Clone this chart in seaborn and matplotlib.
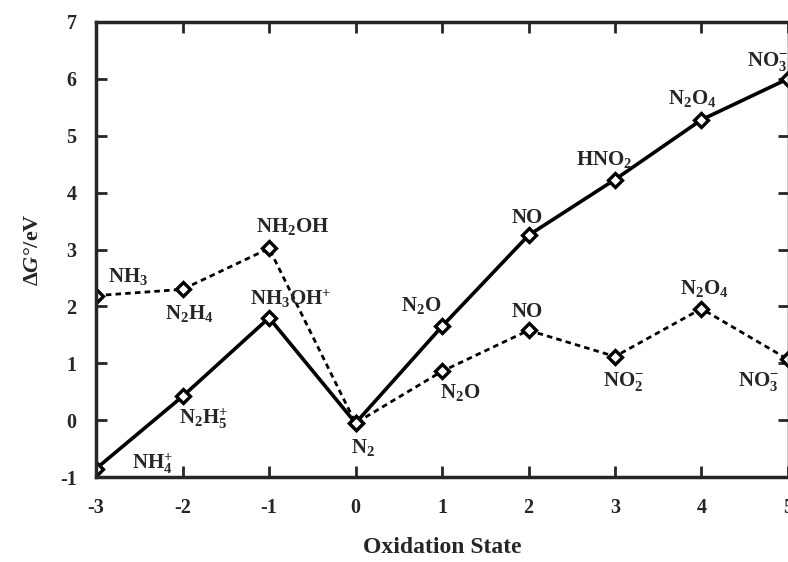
import matplotlib
matplotlib.use('Agg')
import matplotlib.pyplot as plt
import seaborn as sns
import pandas

# oxidation states of nitrogen
states = [-3, -2, -1, 0, 1, 2, 3, 4, 5]

# acid solution (solid line)
acidG = [-0.85, 0.42, 1.80, -0.05, 1.65, 3.25, 4.23, 5.28, 6.00]
acidNames = [r'NH$_4^{+}$', r'N$_2$H$_5^{+}$', r'NH$_3$OH$^{+}$', r'N$_2$', r'N$_2$O',
             'NO', r'HNO$_2$', r'N$_2$O$_4$', r'NO$_3^{-}$']

# basic solution (dashed line)
baseG = [2.19, 2.30, 3.02, -0.05, 0.86, 1.58, 1.12, 1.96, 1.07]
baseNames = [r'NH$_3$', r'N$_2$H$_4$', r'NH$_2$OH', None, r'N$_2$O',
             'NO', r'NO$_2^{-}$', r'N$_2$O$_4$', r'NO$_3^{-}$']

# label offsets in pixels from their point
acidOffsets = [(56, 5), (21, -22), (22, 19), (7, -24), (-21, 21), (-1, 17), (-11, 20), (-9, 21), (-20, 17)]
baseOffsets = [(32, 19), (7, -24), (24, 22), None, (18, -21), (-1, 18), (9, -25), (3, 20), (-29, -22)]

sns.set_theme(style='ticks')
plt.rcParams['font.family'] = ['Liberation Serif', 'DejaVu Serif']
plt.rcParams['font.weight'] = 'bold'
plt.rcParams['mathtext.fontset'] = 'custom'
plt.rcParams['mathtext.rm'] = 'Liberation Serif:bold'
plt.rcParams['mathtext.it'] = 'Liberation Serif:bold:italic'
plt.rcParams['mathtext.bf'] = 'Liberation Serif:bold'
plt.rcParams['axes.unicode_minus'] = False

df = pandas.DataFrame({'state': states, 'acid': acidG, 'base': baseG})

fig = plt.figure(figsize=(7.88, 5.62), dpi=100)
ax = fig.add_axes([0.122, 0.151, 0.879, 0.810])

markerStyle = dict(marker='D', markersize=7.5, markerfacecolor='white',
                   markeredgecolor='black', markeredgewidth=2.4)
sns.lineplot(df, x='state', y='base', color='black', linewidth=2.0,
             linestyle=(0, (2.0, 1.5)), ax=ax, **markerStyle)
sns.lineplot(df, x='state', y='acid', color='black', linewidth=2.6, ax=ax, **markerStyle)

for x, y, name, off in zip(states, acidG, acidNames, acidOffsets):
    ax.annotate(name, (x, y), xytext=off, textcoords='offset pixels',
                ha='center', va='center', fontsize=15, fontweight='bold', annotation_clip=False)
for x, y, name, off in zip(states, baseG, baseNames, baseOffsets):
    if name is None:
        continue
    ax.annotate(name, (x, y), xytext=off, textcoords='offset pixels',
                ha='center', va='center', fontsize=15, fontweight='bold', annotation_clip=False)

ax.set_xlim(-3, 5.01)
ax.set_ylim(-1, 7)
ax.set_xticks(states)
ax.set_yticks(range(-1, 8))
ax.tick_params(direction='in', length=8, width=2, top=True, right=True,
               labelsize=14.5)
ax.tick_params(axis='x', pad=15)
ax.tick_params(axis='y', pad=14)
for lab in ax.get_xticklabels() + ax.get_yticklabels():
    lab.set_fontweight('bold')
for sp in ax.spines.values():
    sp.set_linewidth(2.5)
    sp.set_visible(True)

ax.set_xlabel('Oxidation State', fontsize=17, fontweight='bold', labelpad=14)
ax.set_ylabel(r'$\Delta G$°/eV', fontsize=16, fontweight='bold', labelpad=12)

fig.savefig('out.png', dpi=100)
